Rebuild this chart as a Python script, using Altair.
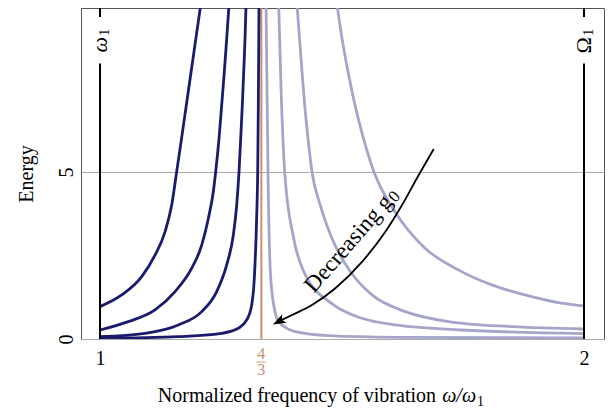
import altair as alt
import pandas as pd

FONT = "Liberation Serif"
DARK = "#1b1b6c"
LIGHT = "#a5a5ca"
BROWN = "#c2926f"

# ---- data ----
D1_x = [1.0, 1.0448, 1.0862, 1.1136, 1.1343, 1.1481, 1.1584, 1.1684, 1.1783, 1.1882, 1.1981, 1.2080]
D1_y = [0.97, 1.32, 1.87, 2.51, 3.21, 4.01, 5.01, 6.0, 7.0, 8.0, 9.0, 10.0]
D2_x = [1.0, 1.0585, 1.1136, 1.1550, 1.1895, 1.2101, 1.2238, 1.2341, 1.2390, 1.2459, 1.2514, 1.2568, 1.2618, 1.2665]
D2_y = [0.27, 0.52, 0.87, 1.42, 2.12, 2.81, 3.61, 4.41, 5.01, 6.01, 7.0, 8.0, 9.0, 10.0]
D3_x = [1.0, 1.0930, 1.1618, 1.2101, 1.2411, 1.2617, 1.2754, 1.2824, 1.2872, 1.2907, 1.2940, 1.2969, 1.2996, 1.3017]
D3_y = [0.07, 0.17, 0.42, 0.82, 1.42, 2.22, 3.11, 4.01, 5.01, 6.01, 7.0, 8.0, 9.0, 10.0]
D4_x = [1.0, 1.1618, 1.2514, 1.2857, 1.3031, 1.3134, 1.3188, 1.3223, 1.3244, 1.3258, 1.3271, 1.3285]
D4_y = [0.02, 0.07, 0.17, 0.32, 0.57, 1.02, 1.82, 3.01, 4.01, 5.01, 7.0, 10.0]

L1_x = [1.3430, 1.3450, 1.3471, 1.3519, 1.3589, 1.3692, 1.4035, 1.4725, 1.6101, 2.0]
L1_y = [10.0, 7.5, 5.0, 2.02, 1.02, 0.52, 0.22, 0.10, 0.05, 0.03]
L2_x = [1.3692, 1.3740, 1.3816, 1.4002, 1.4209, 1.4828, 1.5413, 1.6101, 1.7479, 2.0]
L2_y = [10.0, 7.5, 5.0, 3.01, 2.02, 1.02, 0.62, 0.42, 0.27, 0.16]
L3_x = [1.4070, 1.4174, 1.4229, 1.4298, 1.4380, 1.4552, 1.4793, 1.5171, 1.5620, 1.6308, 1.7204, 1.8512, 2.0]
L3_y = [10.0, 8.0, 7.0, 6.0, 5.0, 4.0, 3.01, 2.02, 1.32, 0.82, 0.52, 0.37, 0.30]
L4_x = [1.4897, 1.5, 1.5124, 1.5269, 1.5444, 1.5661, 1.6095, 1.6715, 1.7403, 1.8093, 1.8781, 1.9469, 2.0]
L4_y = [10.0, 9.0, 8.0, 7.0, 6.0, 5.0, 3.81, 2.72, 2.07, 1.62, 1.32, 1.09, 0.99]

arrow_x = [1.6895, 1.6585, 1.6240, 1.5895, 1.5413, 1.4862, 1.4380, 1.3967, 1.3698]
arrow_y = [5.69, 4.91, 4.01, 3.21, 2.31, 1.52, 1.02, 0.72, 0.53]

side_x = [1, 2]
side_glyphs = ["ω", "Ω"]
side_subs = ["1", "1"]
side_label_y = [9.04, 9.04]
seg_lo = [0.0, 9.64]
seg_hi = [8.25, 10.0]

res_x = [4 / 3]
note_anchor_x = [1.595]
note_anchor_y = [4.22]
note_main = ["Decreasing g"]
note_sub = ["0"]

title_anchor_x = [1.7769]
title_main = ["Normalized frequency of vibration"]
title_var = ["ω/ω"]
title_sub = ["1"]

X_DOMAIN = [0.9607, 2.0413]
Y_DOMAIN = [0, 9.91]
W, H = 523, 331

# ---- tables ----
rows = []
for name, xs_, ys_, grp in [("d1", D1_x, D1_y, "dark"), ("d2", D2_x, D2_y, "dark"),
                            ("d3", D3_x, D3_y, "dark"), ("d4", D4_x, D4_y, "dark"),
                            ("l1", L1_x, L1_y, "light"), ("l2", L2_x, L2_y, "light"),
                            ("l3", L3_x, L3_y, "light"), ("l4", L4_x, L4_y, "light")]:
    for a, b in zip(xs_, ys_):
        rows.append({"x": a, "y": b, "curve": name, "group": grp})
curves_df = pd.DataFrame(rows)

seg_rows = []
for sx in side_x:
    for lo, hi in zip(seg_lo, seg_hi):
        seg_rows.append({"x": sx, "y": lo, "y2": hi})
seg_df = pd.DataFrame(seg_rows)

omega_df = pd.DataFrame({"x": side_x[:1], "y": side_label_y[:1], "t": side_glyphs[:1]})
Omega_df = pd.DataFrame({"x": side_x[1:], "y": side_label_y[1:], "t": side_glyphs[1:]})
sub_df = pd.DataFrame({"x": side_x, "y": side_label_y, "t": side_subs})
arrow_df = pd.DataFrame({"x": arrow_x, "y": arrow_y})
head_df = pd.DataFrame({"x": arrow_x[-1:], "y": arrow_y[-1:]})
res_df = pd.DataFrame({"x": res_x})
note_df = pd.DataFrame({"x": note_anchor_x, "y": note_anchor_y, "t": note_main, "s": note_sub})
title_df = pd.DataFrame({"x": title_anchor_x, "a": title_main, "b": title_var, "c": title_sub})

xs = alt.Scale(domain=X_DOMAIN, nice=False, zero=False)
ys = alt.Scale(domain=Y_DOMAIN, nice=False, zero=False)

x_axis = alt.Axis(values=[1, 2], format="d", grid=False, ticks=False, domain=False,
                  labelFont=FONT, labelFontSize=20, labelPadding=9, labelColor="black",
                  title=None)
y_axis = alt.Axis(values=[0, 5], grid=True, gridColor="#aaaaaa", gridWidth=1, ticks=False,
                  domain=False, labelAngle=270, labelAlign="center",
                  labelBaseline="alphabetic", labelPadding=9, labelFont=FONT,
                  labelFontSize=20, labelColor="black", title="Energy", titleFont=FONT,
                  titleFontSize=20, titleFontWeight="normal", titlePadding=20,
                  titleColor="black")

brown = alt.Chart(res_df).mark_rule(color=BROWN, strokeWidth=2).encode(
    x=alt.X("x:Q", scale=xs, axis=x_axis),
    y=alt.value(0), y2=alt.value(H))

lines = alt.Chart(curves_df).mark_line(strokeWidth=2.8, clip=True, interpolate="monotone").encode(
    x=alt.X("x:Q", scale=xs, axis=x_axis),
    y=alt.Y("y:Q", scale=ys, axis=y_axis),
    color=alt.Color("group:N", scale=alt.Scale(domain=["dark", "light"], range=[DARK, LIGHT]),
                    legend=None),
    detail="curve:N")

segs = alt.Chart(seg_df).mark_rule(color="black", strokeWidth=2, clip=True).encode(
    x="x:Q", y="y:Q", y2="y2:Q")

omega_text = alt.Chart(omega_df).mark_text(font=FONT, fontSize=22, angle=270, color="black",
                                           fontStyle="italic", align="right",
                                           baseline="middle").encode(
    x="x:Q", y="y:Q", text="t:N")
Omega_text = alt.Chart(Omega_df).mark_text(font=FONT, fontSize=22, angle=270, color="black",
                                           align="right", baseline="middle").encode(
    x="x:Q", y="y:Q", text="t:N")
sub_text = alt.Chart(sub_df).mark_text(font=FONT, fontSize=15, angle=270, color="black",
                                       align="left", baseline="middle", dx=1, dy=4).encode(
    x="x:Q", y="y:Q", text="t:N")

arrow = alt.Chart(arrow_df).mark_line(color="black", strokeWidth=1.8, interpolate="monotone").encode(
    x="x:Q", y="y:Q")

head = alt.Chart(head_df).mark_point(shape="M0,-1 L0.7,0.9 L0,0.45 L-0.7,0.9 Z", filled=True,
                                     color="black", opacity=1, size=190, angle=243).encode(
    x="x:Q", y="y:Q")

note = alt.Chart(note_df).mark_text(font=FONT, fontSize=23, angle=311, color="black",
                                    align="right", baseline="middle").encode(
    x="x:Q", y="y:Q", text="t:N")
note_s = alt.Chart(note_df).mark_text(font=FONT, fontSize=17, angle=311, color="black",
                                      align="left", baseline="middle", dx=1, dy=4).encode(
    x="x:Q", y="y:Q", text="s:N")

title_a = alt.Chart(title_df).mark_text(font=FONT, fontSize=20, color="black", align="right",
                                        baseline="alphabetic", dx=-40).encode(
    x="x:Q", y=alt.value(H + 63), text="a:N")
title_b = alt.Chart(title_df).mark_text(font=FONT, fontSize=20, color="black", align="right",
                                        fontStyle="italic", baseline="alphabetic").encode(
    x="x:Q", y=alt.value(H + 63), text="b:N")
title_c = alt.Chart(title_df).mark_text(font=FONT, fontSize=14, color="black", align="left",
                                        baseline="alphabetic", dx=1).encode(
    x="x:Q", y=alt.value(H + 67), text="c:N")

frac_top = alt.Chart(res_df).mark_text(text="4", font=FONT, fontSize=16, color=BROWN,
                                       baseline="middle").encode(x="x:Q", y=alt.value(H + 15))
frac_bar = alt.Chart(res_df).mark_tick(orient="horizontal", size=10, thickness=1.2,
                                       color=BROWN).encode(x="x:Q", y=alt.value(H + 23))
frac_bot = alt.Chart(res_df).mark_text(text="3", font=FONT, fontSize=16, color=BROWN,
                                       baseline="middle").encode(x="x:Q", y=alt.value(H + 31))

chart = alt.layer(brown, lines, segs, omega_text, Omega_text, sub_text, arrow, head,
                  note, note_s, title_a, title_b, title_c,
                  frac_top, frac_bar, frac_bot).properties(
    width=W, height=H,
    background="white",
    autosize=alt.AutoSizeParams(type="none"),
    padding={"left": 73, "top": 0, "right": 4, "bottom": 72},
).configure_view(stroke="#555555", strokeWidth=1)

chart.save("out.html", embed_options={"renderer": "svg", "actions": False})
